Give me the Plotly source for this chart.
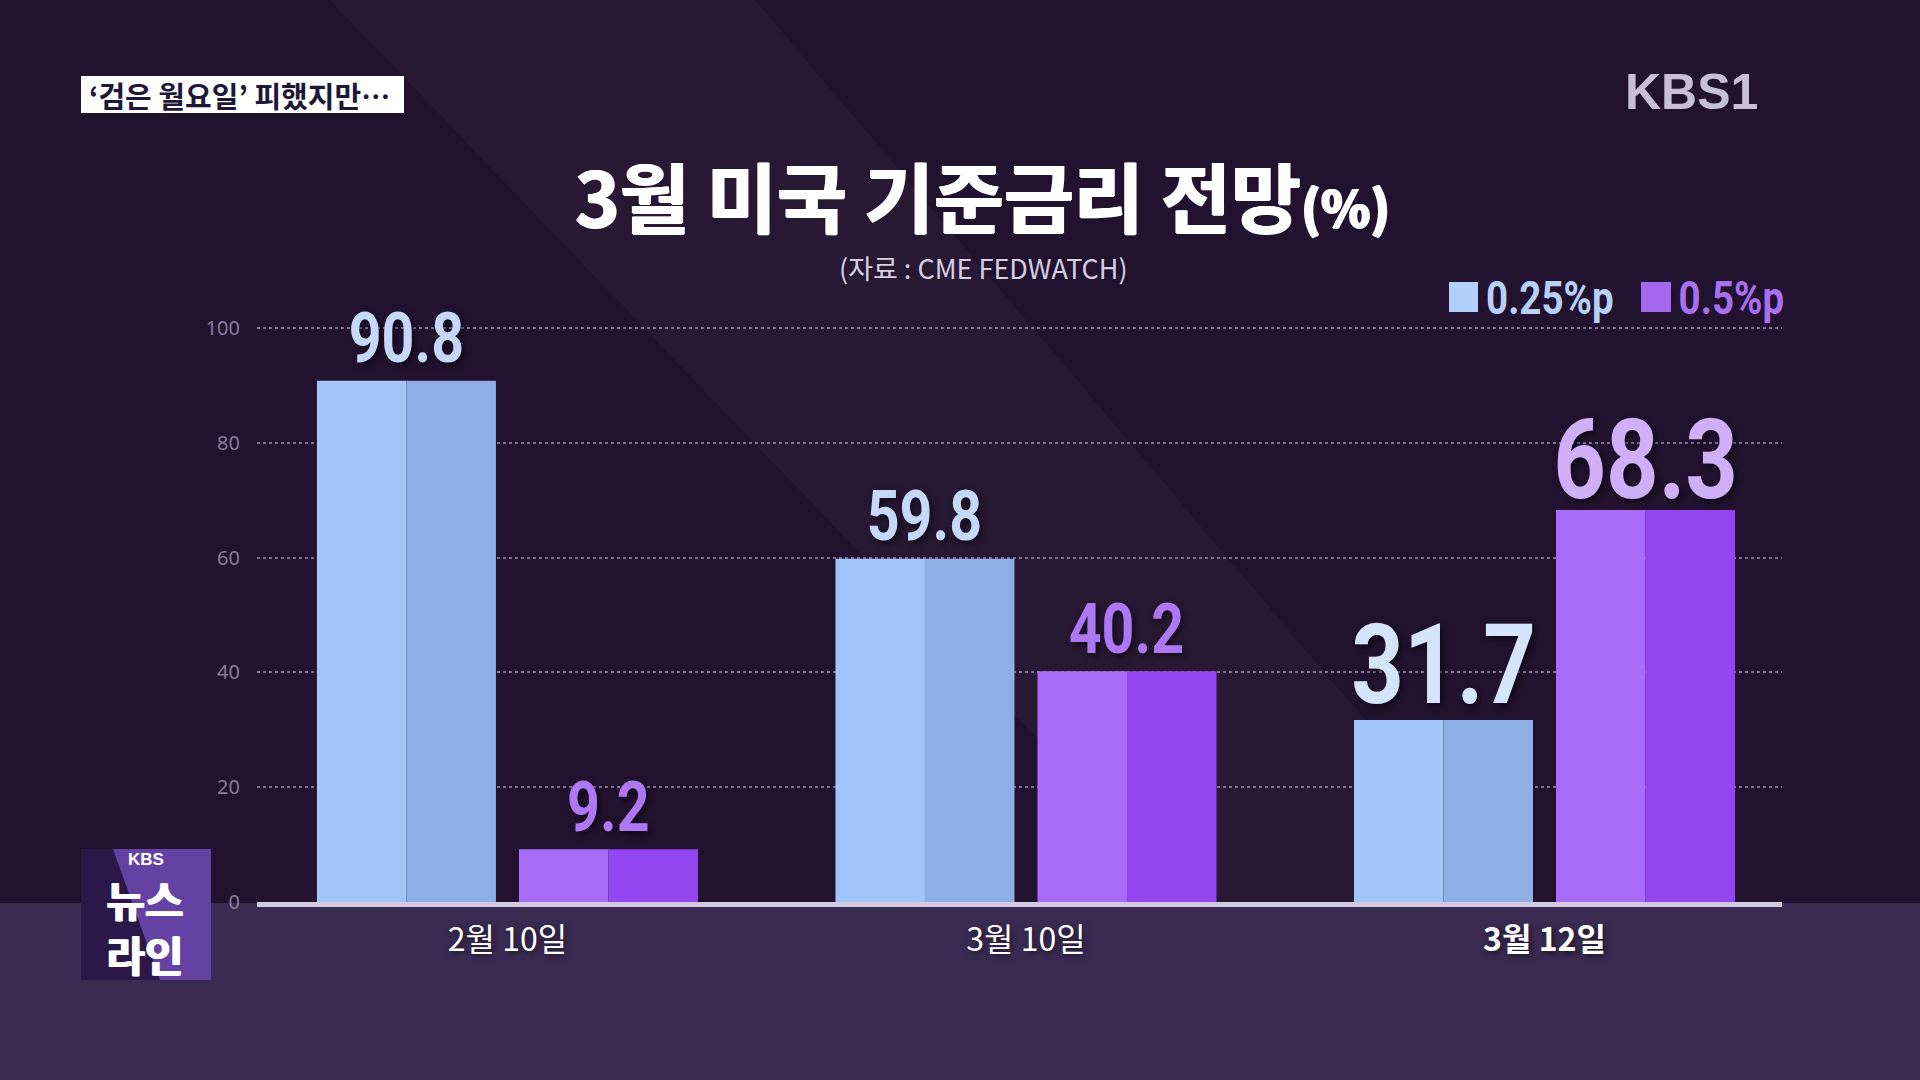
import plotly.graph_objects as go

# ---------------- data ----------------
categories = ["2월 10일", "3월 10일", "3월 12일"]
tick_labels = ["2월 10일", "3월 10일", "<b>3월 12일</b>"]
series_names = ["0.25%p", "0.5%p"]
vals_025 = [90.8, 59.8, 31.7]
vals_05 = [9.2, 40.2, 68.3]
y_ticks = [0, 20, 40, 60, 80, 100]

W, H = 1920, 1080
def px(x):
    return x / W
def py(y):
    return 1 - y / H

BG = "#22122f"
BAND = "#3b2b53"
COND = "Roboto, Liberation Sans, sans-serif"
KR = "Noto Sans CJK KR, Noto Sans CJK SC, sans-serif"

# bar geometry (category units)
half_w = 0.1726
blue_left_off = -0.3674
purple_left_off = 0.0222

fig = go.Figure()

# 0.25%p series : light left half, darker right half
fig.add_trace(go.Bar(x=categories, y=vals_025, name=series_names[0], offset=blue_left_off,
                     width=half_w, marker=dict(color="#a2c5fa", line=dict(width=0)),
                     showlegend=False, hoverinfo="skip"))
fig.add_trace(go.Bar(x=categories, y=vals_025, name=series_names[0], offset=blue_left_off + half_w,
                     width=half_w, marker=dict(color="#8eaee6", line=dict(width=0)),
                     showlegend=False, hoverinfo="skip"))
# 0.5%p series
fig.add_trace(go.Bar(x=categories, y=vals_05, name=series_names[1], offset=purple_left_off,
                     width=half_w, marker=dict(color="#a96cf8", line=dict(width=0)),
                     showlegend=False, hoverinfo="skip"))
fig.add_trace(go.Bar(x=categories, y=vals_05, name=series_names[1], offset=purple_left_off + half_w,
                     width=half_w, marker=dict(color="#9446f0", line=dict(width=0)),
                     showlegend=False, hoverinfo="skip"))

annotations = []
shadow = "3px 3px 6px rgba(0,0,0,0.55)"
label_sizes = [70, 70, 112]
blue_label_colors = ["#c4d8f8", "#c4d8f8", "#d4e4fb"]
purple_label_colors = ["#ae78f4", "#ae78f4", "#cfb0f8"]
for i, (v1, v2) in enumerate(zip(vals_025, vals_05)):
    ys = 18 - 0.265 * label_sizes[i]
    annotations.append(dict(x=i + blue_left_off + half_w, y=v1, xref="x", yref="y",
                            text=f"<b>{v1}</b>", showarrow=False, yanchor="bottom", yshift=ys,
                            font=dict(family=COND, size=label_sizes[i], color=blue_label_colors[i],
                                      shadow=shadow, weight=900)))
    annotations.append(dict(x=i + purple_left_off + half_w, y=v2, xref="x", yref="y",
                            text=f"<b>{v2}</b>", showarrow=False, yanchor="bottom", yshift=ys - (5 if i == 2 else 0),
                            font=dict(family=COND, size=label_sizes[i], color=purple_label_colors[i],
                                      shadow=shadow, weight=900)))

# title & subtitle
title_shadow = "1px 0 0 #ffffff, -1px 0 0 #ffffff, 0 1px 0 #ffffff"
annotations.append(dict(x=px(982), y=py(194), xref="paper", yref="paper",
                        text="<b>3월 미국 기준금리 전망</b><span style='font-size:50px'>(%)</span>",
                        showarrow=False, xanchor="center", yanchor="middle",
                        font=dict(family=KR, size=76, color="#ffffff", weight=900,
                                  shadow=title_shadow)))
annotations.append(dict(x=px(983), y=py(267), xref="paper", yref="paper",
                        text="(자료 : CME FEDWATCH)", showarrow=False, xanchor="center", yanchor="middle",
                        font=dict(family=KR, size=27, color="#d6cfe4")))

# legend texts
annotations.append(dict(x=px(1550), y=py(297), xref="paper", yref="paper", text="<b>0.25%p</b>",
                        showarrow=False, xanchor="center", yanchor="middle",
                        font=dict(family=COND, size=47, color="#b8d0f8", weight=900)))
annotations.append(dict(x=px(1731), y=py(297), xref="paper", yref="paper", text="<b>0.5%p</b>",
                        showarrow=False, xanchor="center", yanchor="middle",
                        font=dict(family=COND, size=47, color="#a870f0", weight=900)))

# top-left caption
annotations.append(dict(x=px(87), y=py(95), xref="paper", yref="paper",
                        text="<b>‘검은 월요일’ 피했지만…</b>", showarrow=False,
                        xanchor="left", yanchor="middle",
                        font=dict(family=KR, size=29, color="#1e1838")))
# KBS1 logo
annotations.append(dict(x=px(1691), y=py(92), xref="paper", yref="paper",
                        text="<b>KBS1</b>", showarrow=False, xanchor="center", yanchor="middle",
                        font=dict(family="Liberation Sans, Arial, sans-serif", size=50, color="#c8bed8")))
# bottom-left logo texts
annotations.append(dict(x=px(146), y=py(859), xref="paper", yref="paper", text="<b>KBS</b>",
                        showarrow=False, xanchor="center", yanchor="middle",
                        font=dict(family="Liberation Sans, Arial, sans-serif", size=17, color="#ffffff")))
annotations.append(dict(x=px(145), y=py(926), xref="paper", yref="paper", text="<b>뉴스<br>라인</b>",
                        showarrow=False, xanchor="center", yanchor="middle",
                        font=dict(family=KR, size=38, color="#ffffff", weight=900,
                                  shadow="1px 0 0 #ffffff, -1px 0 0 #ffffff")))

shapes = [
    # lower band
    dict(type="rect", xref="paper", yref="paper", x0=0, x1=1, y0=0, y1=py(903),
         fillcolor=BAND, line=dict(width=0), layer="below"),
    # diagonal light streak
    dict(type="path", xref="paper", yref="paper",
         path=f"M {px(330)} {py(0)} L {px(755)} {py(0)} L {px(1520)} {py(903)} L {px(1195)} {py(903)} Z",
         fillcolor="rgba(255,255,255,0.028)", line=dict(width=0), layer="below"),
    # caption box
    dict(type="rect", xref="paper", yref="paper", x0=px(81), x1=px(404), y0=py(113), y1=py(76),
         fillcolor="#ffffff", line=dict(width=0), layer="above"),
    # legend squares
    dict(type="rect", xref="paper", yref="paper", x0=px(1449), x1=px(1478), y0=py(312), y1=py(282),
         fillcolor="#b0d0fa", line=dict(width=0), layer="above"),
    dict(type="rect", xref="paper", yref="paper", x0=px(1641), x1=px(1671), y0=py(312), y1=py(282),
         fillcolor="#a668f0", line=dict(width=0), layer="above"),
    # news logo box
    dict(type="rect", xref="paper", yref="paper", x0=px(81), x1=px(211), y0=py(980), y1=py(849),
         fillcolor="#6442a4", line=dict(width=0), layer="above"),
    dict(type="path", xref="paper", yref="paper",
         path=f"M {px(81)} {py(849)} L {px(113)} {py(849)} L {px(160)} {py(980)} L {px(81)} {py(980)} Z",
         fillcolor="#2c1848", line=dict(width=0), layer="above"),
]

fig.update_layout(
    autosize=True,
    margin=dict(l=0, r=0, t=0, b=0, pad=0),
    paper_bgcolor=BG, plot_bgcolor="rgba(0,0,0,0)",
    barmode="overlay",
    showlegend=False,
    annotations=annotations,
    shapes=shapes,
    xaxis=dict(domain=[px(257), px(1782)], range=[-0.483, 2.458], type="category",
               tickvals=categories, ticktext=tick_labels, showgrid=False, zeroline=False,
               showline=True, linecolor="#d2c8e0", linewidth=5, ticks="",
               ticklabelstandoff=6, automargin=False,
               tickfont=dict(family=KR, size=32, color="#ffffff",
                             shadow="2px 2px 6px rgba(0,0,0,0.6)")),
    yaxis=dict(domain=[py(902), py(322.3)], range=[0, 101], tickvals=y_ticks,
               showgrid=True, gridcolor="rgba(190,170,210,0.6)", gridwidth=2, griddash="dot",
               zeroline=False, showline=False, ticks="", ticklabelstandoff=16, automargin=False,
               tickfont=dict(family="Noto Sans, Lato, sans-serif", size=20, color="#8a7b9c")),
)

# the numeric labels are set in a condensed face in the original: narrow them with a CSS rule;
# the news-logo glyphs are tightly stacked, so they are enlarged slightly around their centre
post = """
var s = document.createElement('style');
s.textContent = 'text.annotation-text[style*="Roboto"]{transform-box:fill-box;transform-origin:center;transform:scaleX(0.82);}'
  + 'text.annotation-text[data-unformatted*="뉴스"]{transform-box:fill-box;transform-origin:center;transform:scale(1.1);}';
document.head.appendChild(s);
"""

fig.write_html("out.html", post_script=post)
